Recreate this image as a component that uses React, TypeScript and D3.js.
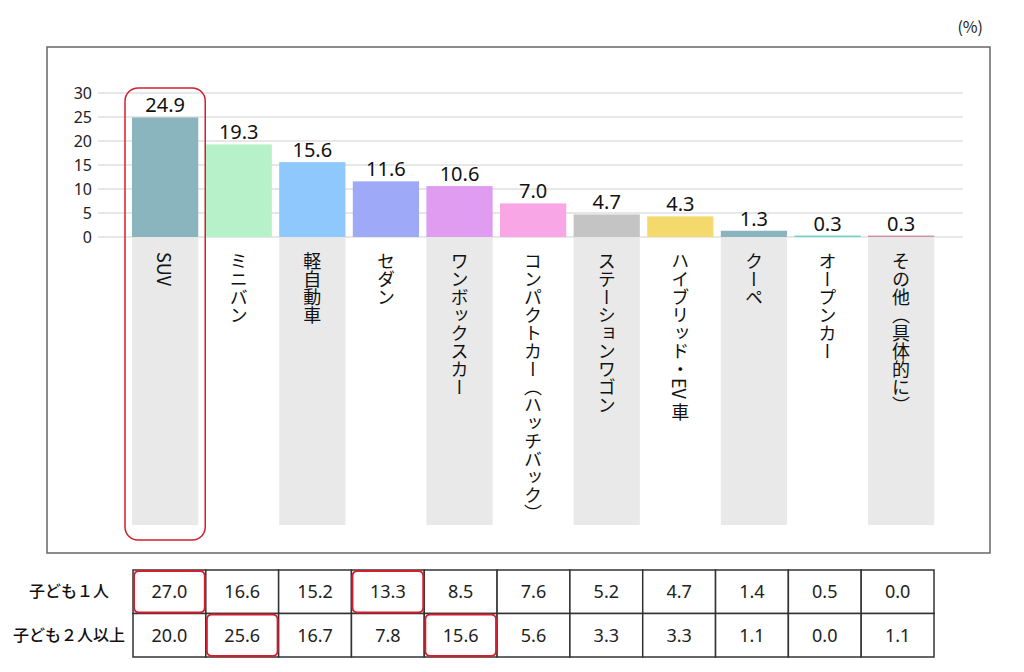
import React from 'react';
import * as d3 from 'd3';

const categories = ['SUV', 'ミニバン', '軽自動車', 'セダン', 'ワンボックスカー', 'コンパクトカー（ハッチバック）', 'ステーションワゴン', 'ハイブリッド・EV 車', 'クーペ', 'オープンカー', 'その他（具体的に）'];
const totals = [24.9, 19.3, 15.6, 11.6, 10.6, 7.0, 4.7, 4.3, 1.3, 0.3, 0.3];
const oneChild = [27.0, 16.6, 15.2, 13.3, 8.5, 7.6, 5.2, 4.7, 1.4, 0.5, 0.0];
const twoPlus = [20.0, 25.6, 16.7, 7.8, 15.6, 5.6, 3.3, 3.3, 1.1, 0.0, 1.1];
const rowLabels = ['子ども１人', '子ども２人以上'];
const yTicks = [0, 5, 10, 15, 20, 25, 30];
const barColors = ['#8ab5bf', '#b6f1ca', '#8ec8fc', '#9eaaf8', '#e09cf0', '#f9a6e6', '#c4c4c4', '#f4da6c', '#8ab5bf', '#5fd8cc', '#d08fa2'];
// highlighted table cells: [row, col]
const highlights = [[0, 0], [0, 3], [1, 1], [1, 4]];

const jp = '"Noto Sans CJK JP", "Noto Sans", sans-serif';
const num = '"Noto Sans", "Open Sans", sans-serif';

export default function App() {
  const step = 73.6;
  const r0 = 132 - 0.05 * step;
  const x = d3.scaleBand<string>().domain(categories).range([r0, r0 + 11 * step]).paddingInner(0.1).paddingOuter(0.05);
  const y = d3.scaleLinear().domain([0, 30]).range([237, 93]);
  const col = d3.scaleBand<string>().domain(categories).range([133, 934]).padding(0);
  const rowY = d3.scaleBand<string>().domain(rowLabels).range([570, 657]);
  const bw = x.bandwidth();
  const red = '#d21f2e';

  return (
    <div style={{ position: 'absolute', left: 0, top: 0 }}>
      <svg width={1024} height={672} style={{ display: 'block', background: '#fff' }}>
        <text x={983} y={33} textAnchor="end" fontFamily={jp} fontSize={16} fill="#222">(%)</text>
        <rect x={47} y={47} width={943} height={506} fill="none" stroke="#666" strokeWidth={1.5} />

        {/* gray label backgrounds */}
        {categories.map((c, i) => i % 2 === 0 ? (
          <rect key={'bg' + c} x={x(c)} y={y(0) + 1} width={bw} height={525 - y(0) - 1} fill="#e9e9e9" />
        ) : null)}

        {/* grid */}
        {yTicks.map((t) => (
          <g key={'t' + t}>
            <line x1={98} x2={963} y1={y(t)} y2={y(t)} stroke="#cfcfcf" strokeWidth={1} />
            <text x={92} y={y(t) + 6} textAnchor="end" fontFamily={num} fontSize={16} fill="#222">{t}</text>
          </g>
        ))}

        {/* bars */}
        {categories.map((c, i) => (
          <g key={'b' + c}>
            <rect x={x(c)} y={y(totals[i])} width={bw} height={y(0) - y(totals[i])} fill={barColors[i]} />
            <text x={(x(c) as number) + bw / 2} y={y(totals[i]) - 5} textAnchor="middle" fontFamily={num} fontSize={20} fill="#111">{totals[i].toFixed(1)}</text>
            <text x={(x(c) as number) + bw / 2} y={252} fontFamily={jp} fontSize={18} fill="#111" style={{ writingMode: 'vertical-rl' }}>{c}</text>
          </g>
        ))}

        {/* highlight around top category */}
        <rect x={(x(categories[0]) as number) - 7} y={88} width={bw + 14} height={452} rx={13} fill="none" stroke={red} strokeWidth={1.5} />

        {/* table */}
        {rowLabels.map((r, ri) => {
          const vals = ri === 0 ? oneChild : twoPlus;
          const ry = rowY(r) as number;
          const rh = rowY.bandwidth();
          return (
            <g key={'r' + r}>
              <text x={69} y={ry + rh / 2 + 5.5} textAnchor="middle" fontFamily={jp} fontSize={16} fontWeight={500} fill="#111">{r}</text>
              {categories.map((c, ci) => (
                <g key={'c' + c}>
                  <rect x={col(c)} y={ry} width={col.bandwidth()} height={rh} fill="#fff" stroke="#333" strokeWidth={1.5} />
                  <text x={(col(c) as number) + col.bandwidth() / 2} y={ry + rh / 2 + 6.5} textAnchor="middle" fontFamily={num} fontSize={18} fill="#222">{vals[ci].toFixed(1)}</text>
                </g>
              ))}
            </g>
          );
        })}
        {highlights.map(([ri, ci]) => (
          <rect key={'h' + ri + ci} x={(col(categories[ci]) as number) + 1} y={(rowY(rowLabels[ri]) as number) + 1} width={col.bandwidth() - 2} height={rowY.bandwidth() - 2} rx={5} fill="none" stroke={red} strokeWidth={2} />
        ))}
      </svg>
    </div>
  );
}
